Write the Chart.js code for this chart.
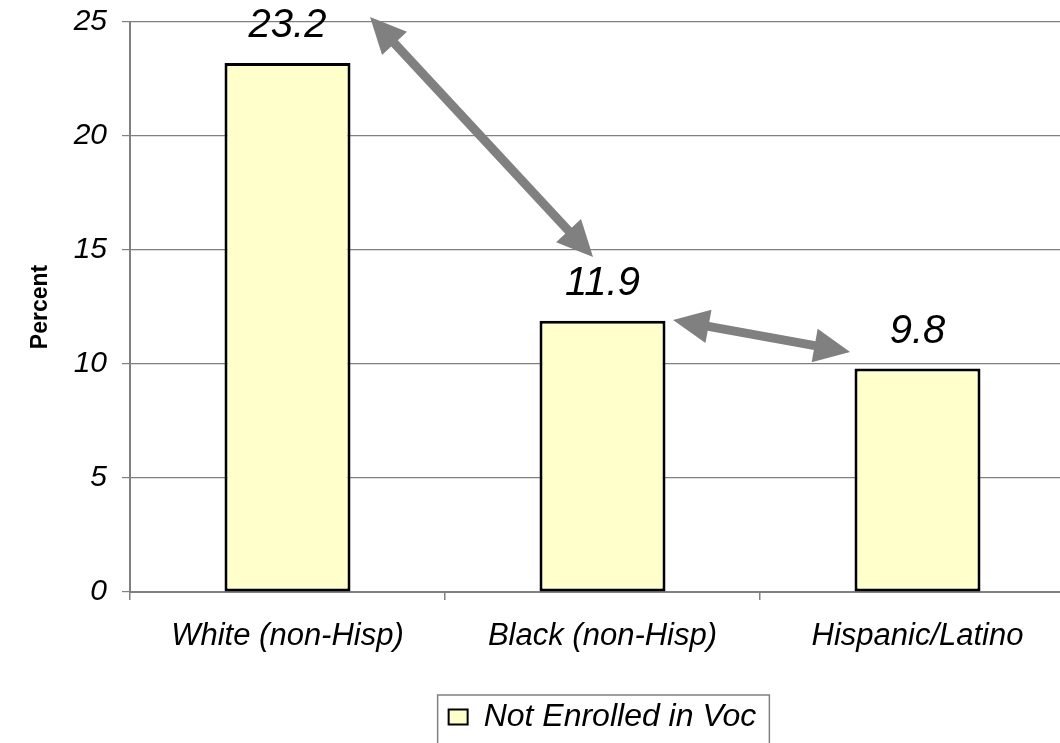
<!DOCTYPE html>
<html>
<head>
<meta charset="utf-8">
<script src="https://cdn.jsdelivr.net/npm/chart.js@4.4.1/dist/chart.umd.min.js"></script>
<style>
  html, body { margin: 0; padding: 0; background: #fff; overflow: hidden; }
  #wrap { width: 1080px; height: 743px; }
</style>
</head>
<body>
<div id="wrap"><canvas id="chart"></canvas></div>
<script>
// Chart data
const categories = ['White (non-Hisp)', 'Black (non-Hisp)', 'Hispanic/Latino'];
const notEnrolled = [23.2, 11.9, 9.8];
const yTicks = [0, 5, 10, 15, 20, 25];

// Annotation arrows, given in data space: [category index, value]
const arrowStarts = [[0.262, 25.22], [1.224, 11.93]];
const arrowEnds = [[0.970, 14.69], [1.786, 10.53]];

const FONT = '"Liberation Sans", Arial, sans-serif';

// value labels above each bar
const valueLabels = {
    id: 'valueLabels',
    afterDatasetsDraw(chart) {
        const ctx = chart.ctx;
        const meta = chart.getDatasetMeta(0);
        ctx.save();
        ctx.font = 'italic 40px ' + FONT;
        ctx.fillStyle = '#000';
        ctx.textAlign = 'center';
        ctx.textBaseline = 'alphabetic';
        meta.data.forEach((bar, i) => {
            ctx.fillText(notEnrolled[i].toFixed(1), bar.x, bar.y - 26);
        });
        ctx.restore();
    }
};

function drawArrow(ctx, x1, y1, x2, y2) {
    const head = 36, half = 17;
    const ang = Math.atan2(y2 - y1, x2 - x1);
    const cos = Math.cos(ang), sin = Math.sin(ang);
    ctx.lineWidth = 9;
    ctx.beginPath();
    ctx.moveTo(x1 + cos * head * 0.8, y1 + sin * head * 0.8);
    ctx.lineTo(x2 - cos * head * 0.8, y2 - sin * head * 0.8);
    ctx.stroke();
    // heads at both ends
    [[x2, y2, 1], [x1, y1, -1]].forEach(([x, y, d]) => {
        const bx = x - d * cos * head, by = y - d * sin * head;
        ctx.beginPath();
        ctx.moveTo(x, y);
        ctx.lineTo(bx - sin * half, by + cos * half);
        ctx.lineTo(bx + sin * half, by - cos * half);
        ctx.closePath();
        ctx.fill();
    });
}

const arrows = {
    id: 'arrows',
    afterDatasetsDraw(chart) {
        const ctx = chart.ctx;
        const xs = chart.scales.x, ys = chart.scales.y;
        ctx.save();
        ctx.strokeStyle = '#808080';
        ctx.fillStyle = '#808080';
        arrowStarts.forEach((s, i) => {
            const e = arrowEnds[i];
            drawArrow(ctx,
                xs.getPixelForValue(s[0]), ys.getPixelForValue(s[1]),
                xs.getPixelForValue(e[0]), ys.getPixelForValue(e[1]));
        });
        ctx.restore();
    }
};

// border box round the legend
const legendBox = {
    id: 'legendBox',
    afterDraw(chart) {
        const hit = chart.legend.legendHitBoxes[0];
        if (!hit) return;
        const ctx = chart.ctx;
        ctx.save();
        ctx.strokeStyle = '#808080';
        ctx.lineWidth = 1.5;
        ctx.strokeRect(hit.left - 11, hit.top + hit.height / 2 - 22, hit.width + 24, 80);
        ctx.restore();
    }
};

new Chart(document.getElementById('chart'), {
    type: 'bar',
    data: {
        labels: categories,
        datasets: [{
            label: 'Not Enrolled in Voc',
            data: notEnrolled,
            backgroundColor: '#FFFFCC',
            borderColor: '#000000',
            borderWidth: 3,
            borderSkipped: false,
            barPercentage: 0.4,
            categoryPercentage: 1.0
        }]
    },
    options: {
        responsive: true,
        maintainAspectRatio: false,
        animation: false,
        layout: { padding: { top: 22, right: 5, left: 0, bottom: 0 } },
        plugins: {
            tooltip: { enabled: false },
            legend: {
                position: 'bottom',
                fullSize: false,
                labels: {
                    boxWidth: 19,
                    boxHeight: 15,
                    padding: 12,
                    color: '#000',
                    font: { family: FONT, size: 32, style: 'italic' },
                    generateLabels(chart) {
                        const items = Chart.defaults.plugins.legend.labels.generateLabels(chart);
                        items.forEach(it => { it.lineWidth = 2; });
                        return items;
                    }
                }
            }
        },
        scales: {
            x: {
                afterFit(scale) {
                    scale.height = 97;
                    scale.paddingLeft = 0;
                    scale.paddingRight = 0;
                },
                grid: { drawOnChartArea: false, drawTicks: true, tickLength: 8, color: '#808080', lineWidth: 1.5 },
                border: { color: '#808080', width: 2 },
                ticks: { color: '#000', padding: 18, maxRotation: 0, font: { family: FONT, size: 31, style: 'italic' } }
            },
            y: {
                min: 0,
                max: 25,
                afterBuildTicks(scale) { scale.ticks = yTicks.map(v => ({ value: v })); },
                afterFit(scale) {
                    scale.width = 130;
                    scale.paddingTop = 0;
                    scale.paddingBottom = 0;
                },
                grid: { color: '#808080', lineWidth: 1.2, tickLength: 8 },
                border: { color: '#808080', width: 2 },
                ticks: { color: '#000', padding: 15, font: { family: FONT, size: 30, style: 'italic' } },
                title: {
                    display: true,
                    text: 'Percent',
                    color: '#000',
                    padding: { top: 27, bottom: 0 },
                    font: { family: FONT, size: 23, weight: 'bold' }
                }
            }
        }
    },
    plugins: [valueLabels, arrows, legendBox]
});
</script>
</body>
</html>
